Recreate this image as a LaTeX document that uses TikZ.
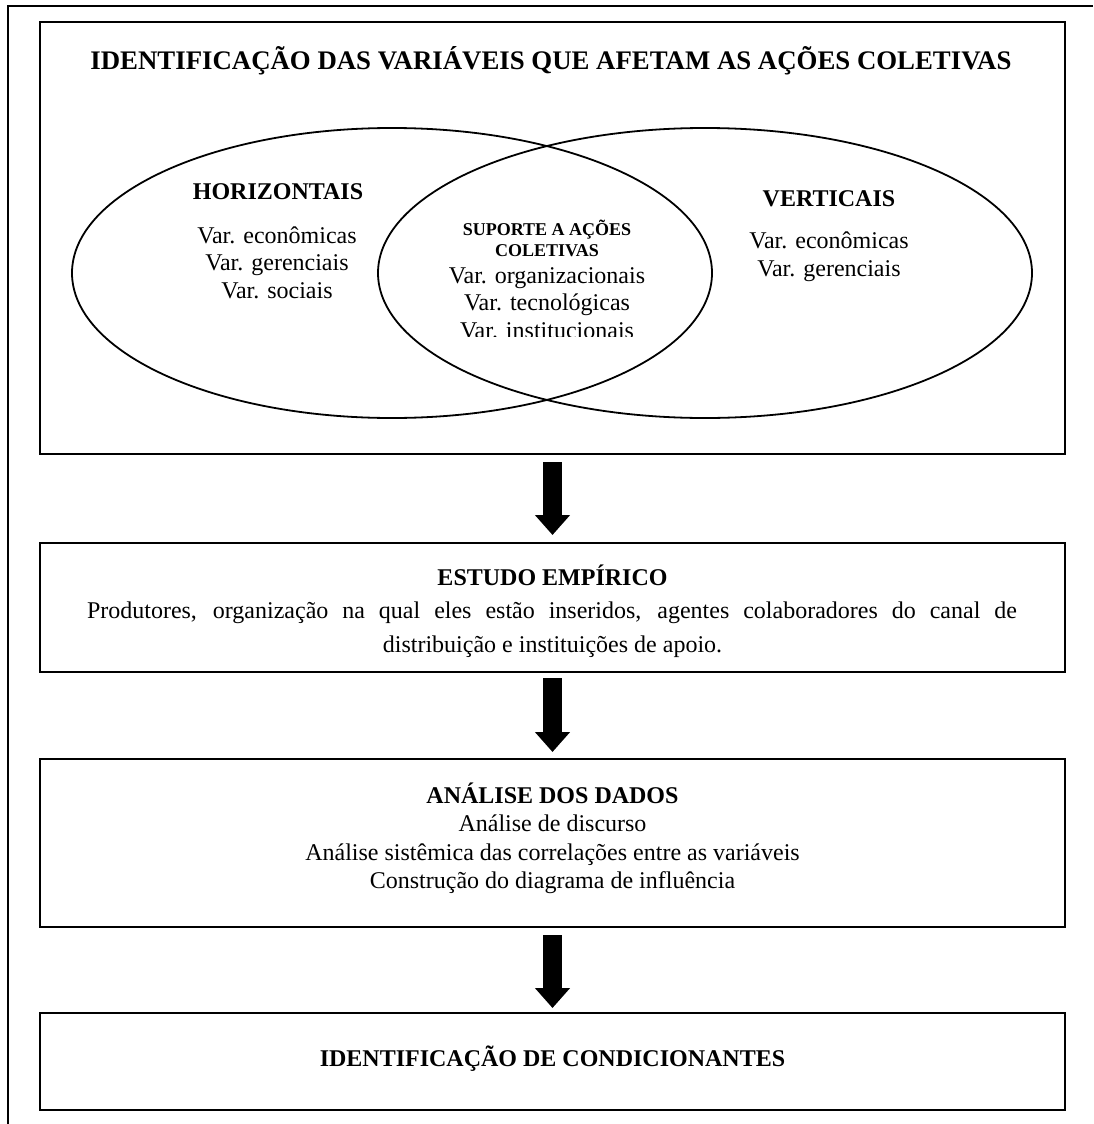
\documentclass[tikz,border=0pt]{standalone}
\usepackage{fontspec}
\setmainfont{Liberation Serif}
\usetikzlibrary{shapes.geometric,arrows.meta}
\begin{document}
\begin{tikzpicture}[x=1pt,y=-1pt,
  stagebox/.style={draw, line width=2pt, rectangle, inner sep=0pt, outer sep=0pt, minimum width=1025pt},
  venn/.style={draw, line width=1.8pt, ellipse, inner sep=0pt, outer sep=0pt},
  title/.style={font=\fontsize{26.8}{30}\selectfont\bfseries, anchor=base, inner sep=0pt},
  head/.style={font=\fontsize{24}{28}\selectfont\bfseries, anchor=base, inner sep=0pt},
  small/.style={font=\fontsize{18}{22}\selectfont\bfseries, anchor=base, inner sep=0pt},
  body/.style={font=\fontsize{24}{28}\selectfont, anchor=base, inner sep=0pt},
  flow/.style={line width=19pt, -{Triangle[width=34pt,length=20pt]}}
]
\useasboundingbox (0,0) rectangle (1093,1124);

% page frame
\draw[line width=2pt] (8,1124) -- (8,6) -- (1093,6);

% stage boxes
\node[stagebox, minimum height=432pt] (b1) at (552.5,238) {};
\node[stagebox, minimum height=129pt] (b2) at (552.5,607.5) {};
\node[stagebox, minimum height=168pt] (b3) at (552.5,843) {};
\node[stagebox, minimum height=97pt]  (b4) at (552.5,1061.5) {};

% stage 1: variables
\node[title] (t1) at (551,70) {IDENTIFICAÇÃO DAS VARIÁVEIS QUE AFETAM AS AÇÕES COLETIVAS};
\node[venn, minimum width=640pt, minimum height=290pt] (hz) at (392,273) {};
\node[venn, minimum width=654pt, minimum height=290pt] (vt) at (705,273) {};

\node[head] (hzt) at (278,199) {HORIZONTAIS};
\node[body] (hz1) at (277,243) {Var. econômicas};
\node[body] (hz2) at (277,270.5) {Var. gerenciais};
\node[body] (hz3) at (277,298) {Var. sociais};

\node[head] (vtt) at (829,206) {VERTICAIS};
\node[body] (vt1) at (829,248) {Var. econômicas};
\node[body] (vt2) at (829,276.5) {Var. gerenciais};

% the last line of the overlap text is cut by its frame
\begin{scope}
  \clip (380,200) rectangle (720,336);
  \node[small] (st1) at (547,235) {SUPORTE A AÇÕES};
  \node[small] (st2) at (547,256) {COLETIVAS};
  \node[body] (st3) at (547,283) {Var. organizacionais};
  \node[body] (st4) at (547,310) {Var. tecnológicas};
  \node[body] (st5) at (547,338) {Var. institucionais};
\end{scope}

% stage 2
\node[head] (e0) at (552.5,585) {ESTUDO EMPÍRICO};
\node[body] (e1) at (552,618) {\makebox[930pt][s]{Produtores, organização na qual eles estão inseridos, agentes colaboradores do canal de}};
\node[body] (e2) at (552.5,652) {distribuição e instituições de apoio.};

% stage 3
\node[head] (a0) at (552.5,803) {ANÁLISE DOS DADOS};
\node[body] (a1) at (552.5,831) {Análise de discurso};
\node[body] (a2) at (552.5,860) {Análise sistêmica das correlações entre as variáveis};
\node[body] (a3) at (552.5,888) {Construção do diagrama de influência};

% stage 4
\node[head] (c0) at (552.5,1066) {IDENTIFICAÇÃO DE CONDICIONANTES};

% flow arrows
\draw[flow, shorten <=8pt, shorten >=8pt] (b1.south) -- (b2.north);
\draw[flow, shorten <=6pt, shorten >=7pt] (b2.south) -- (b3.north);
\draw[flow, shorten <=8pt, shorten >=5pt] (b3.south) -- (b4.north);
\end{tikzpicture}
\end{document}
